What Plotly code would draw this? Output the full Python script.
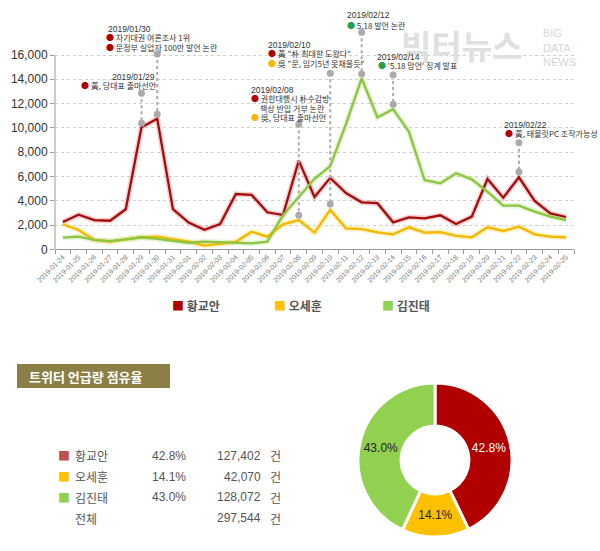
import plotly.graph_objects as go

# ---------------- data ----------------
dates = ["2019-01-24", "2019-01-25", "2019-01-26", "2019-01-27", "2019-01-28", "2019-01-29",
         "2019-01-30", "2019-01-31", "2019-02-01", "2019-02-02", "2019-02-03", "2019-02-04",
         "2019-02-05", "2019-02-06", "2019-02-07", "2019-02-08", "2019-02-09", "2019-02-10",
         "2019-02-11", "2019-02-12", "2019-02-13", "2019-02-14", "2019-02-15", "2019-02-16",
         "2019-02-17", "2019-02-18", "2019-02-19", "2019-02-20", "2019-02-21", "2019-02-22",
         "2019-02-23", "2019-02-24", "2019-02-25"]
hwang = [2250, 2850, 2400, 2350, 3300, 10050, 10750, 3300,
         2200, 1600, 2080, 4550, 4480, 3050, 2820, 7300, 4300, 5880, 4630, 3870, 3800, 2220,
         2630, 2550, 2800, 2080, 2690, 5790, 4250, 5930, 3980, 2960, 2660]
oh = [2060, 1590, 770, 630, 820, 990, 1040, 850,
      630, 300, 490, 620, 1450, 1040, 2060, 2410, 1370, 3240, 1730, 1670, 1400, 1230,
      1810, 1370, 1420, 1100, 990, 1810, 1510, 1860, 1230, 1040, 990]
kim = [960, 1040, 770, 680, 820, 990, 850, 680,
       540, 630, 580, 580, 490, 630, 2820, 4300, 5800, 6850, 10300, 14080, 10870, 11530,
       9690, 5700, 5430, 6260, 5760, 4740, 3590, 3590, 3100, 2690, 2410]
names = ["황교안", "오세훈", "김진태"]
y_ticks = [0, 2000, 4000, 6000, 8000, 10000, 12000, 14000, 16000]

# event markers: date, top value, bottom value
event_dates = ["2019-01-29", "2019-01-30", "2019-02-08", "2019-02-10", "2019-02-12", "2019-02-14", "2019-02-22"]
event_top = [12850, 16080, 10300, 14500, 17870, 14350, 8780]
event_bottom = [10380, 11120, 2800, 3730, 14440, 11950, 6390]

share_values = [127402, 42070, 128072]
share_pct = ["42.8%", "14.1%", "43.0%"]
share_counts = ["127,402", "42,070", "128,072"]
total_label = "전체"
total_count = "297,544"

# ---------------- styling ----------------
W, H = 600, 551
RED, YEL, GRN = "#B00000", "#FFC000", "#92D050"
LINE_COLORS = ["#A30D0D", "#F5B800", "#8CC640"]
GLOW = ["rgba(215,70,70,0.25)", "rgba(255,215,80,0.35)", "rgba(170,220,120,0.3)"]
KR = "Noto Sans CJK KR, Noto Sans, sans-serif"
NUM = "Liberation Sans, Arial, sans-serif"


def px(x):
    return x / W


def py(y):
    return 1 - y / H


y0_px, y16_px, ytop_px = 249.3, 55.0, 20.0
ytop_val = (y0_px - ytop_px) / (y0_px - y16_px) * 16000

fig = go.Figure()

series = [hwang, oh, kim]
for i, vals in enumerate(series):
    fig.add_trace(go.Scatter(x=dates, y=vals, mode="lines", line=dict(color=GLOW[i], width=5.5),
                             hoverinfo="skip", showlegend=False))
for i, vals in enumerate(series):
    fig.add_trace(go.Scatter(x=dates, y=vals, mode="lines", name=names[i],
                             line=dict(color=LINE_COLORS[i], width=2.3), showlegend=False))

for d, t, b in zip(event_dates, event_top, event_bottom):
    fig.add_trace(go.Scatter(x=[d, d], y=[t, b], mode="lines+markers",
                             line=dict(color="#aaaaaa", width=2, dash="dot"),
                             marker=dict(color="#aaaaaa", size=7),
                             cliponaxis=False, showlegend=False, hoverinfo="skip"))

# donut
fig.add_trace(go.Pie(values=share_values, labels=names, sort=False, direction="clockwise",
                     rotation=0, hole=0.44,
                     marker=dict(colors=[RED, YEL, GRN], line=dict(color="white", width=3)),
                     text=share_pct, textinfo="text", textposition="inside",
                     insidetextorientation="horizontal",
                     textfont=dict(size=12, color=["white", "#222222", "#222222"], family=NUM),
                     domain=dict(x=[px(435 - 77), px(435 + 77)], y=[py(460 + 77), py(460 - 77)]),
                     showlegend=False, hoverinfo="label+percent"))

fig.update_layout(
    width=W, height=H, margin=dict(l=0, r=0, t=0, b=0, autoexpand=False),
    paper_bgcolor="white", plot_bgcolor="rgba(0,0,0,0)", showlegend=False,
    xaxis=dict(type="category", domain=[px(55), px(574)], range=[-0.5, len(dates) - 0.5],
               showline=True, linecolor="#999999", linewidth=1, ticks="outside",
               tickson="boundaries", ticklen=4, tickcolor="#999999", tickangle=-45,
               tickfont=dict(size=7, color="#777777", family=NUM), showgrid=False, anchor="y",
               automargin=False),
    yaxis=dict(domain=[py(y0_px), py(ytop_px)], range=[0, ytop_val], tickvals=y_ticks,
               ticktext=[f"{v:,}" for v in y_ticks], showline=False, ticks="outside", ticklen=4,
               tickcolor="#999999", tickfont=dict(size=12, color="#333333", family=NUM),
               showgrid=True, gridcolor="#cfcfcf", griddash="dot", gridwidth=1,
               zeroline=False, automargin=False),
)

shapes = [dict(type="line", xref="paper", yref="y", x0=px(55), x1=px(55), y0=0, y1=16000,
               line=dict(color="#999999", width=1)),
          dict(type="rect", xref="paper", yref="paper", x0=px(17), x1=px(170), y0=py(388), y1=py(364),
               fillcolor="#8C7F45", line=dict(width=0), layer="below")]
fig.update_layout(shapes=shapes)

ann = []


def txt(x, y, s, size=8, color="#333333", family=KR, xanchor="left", bold=False):
    if bold:
        s = f"<b>{s}</b>"
    ann.append(dict(x=px(x), y=py(y), xref="paper", yref="paper", text=s, showarrow=False,
                    xanchor=xanchor, yanchor="middle", font=dict(size=size, color=color, family=family)))


def dot(c):
    return f"<span style='color:{c}'>●</span> "


BR, BY, BG = "#B00000", "#F5B800", "#22A04A"

# watermark
txt(461, 45, "빅터뉴스", size=33, color="#e0e0e0", xanchor="center", bold=True)
txt(541, 33, "BIG", size=11, color="#d6d6d6", family=NUM)
txt(541, 47.5, "DATA", size=11, color="#d6d6d6", family=NUM)
txt(541, 62, "NEWS", size=11, color="#d6d6d6", family=NUM)

# event annotations
txt(110, 77, "2019/01/29", size=8.5, family=NUM)
txt(79, 85.5, dot(BR) + "黃, 당대표 출마선언")
txt(106, 29, "2019/01/30", size=8.5, family=NUM)
txt(104, 37.5, dot(BR) + "차기대권 여론조사 1위")
txt(104, 47, dot(BR) + "문정부 실업자 100만 발언 논란")
txt(249, 90, "2019/02/08", size=8.5, family=NUM)
txt(249, 99, dot(BR) + "권한대행시 朴수감방")
txt(258, 108, "책상 반입 거부 논란")
txt(249, 117.5, dot(BY) + "吳, 당대표 출마선언")
txt(266, 45, "2019/02/10", size=8.5, family=NUM)
txt(266, 53.5, dot(BR) + "黃 \"朴 최대한 도왔다\"")
txt(266, 63, dot(BY) + "吳 \"문, 임기5년 못채울듯\"")
txt(345, 15, "2019/02/12", size=8.5, family=NUM)
txt(345, 25, dot(BG) + "5.18 발언 논란")
txt(375, 57, "2019/02/14", size=8.5, family=NUM)
txt(376, 66, dot(BG) + "'5.18 망언' 징계 발표")
txt(502, 125, "2019/02/22", size=8.5, family=NUM)
txt(503, 134, dot(BR) + "黃, 태블릿PC 조작가능성")

# legend
legend_x = [170, 272, 380]
for i, n in enumerate(names):
    txt(legend_x[i], 305, f"<span style='color:{[RED, YEL, GRN][i]}'>■</span> <b>{n}</b>",
        size=12, color="#555555")

# title box text
txt(27, 376, "트위터 언급량 점유율", size=13, color="white", bold=True)

# table
row_y = [455.7, 476.5, 497.3, 518]
sq_colors = ["#C0504D", "#FFC000", "#92D050"]
for i in range(3):
    txt(56, row_y[i], f"<span style='color:{sq_colors[i]}'>■</span>", size=12)
    txt(73, row_y[i], names[i], size=12, color="#555555")
    txt(150, row_y[i], share_pct[i], size=12, color="#555555", family=NUM)
    txt(263, row_y[i], share_counts[i], size=12, color="#555555", family=NUM, xanchor="right")
    txt(268, row_y[i], "건", size=12, color="#555555")
txt(73, row_y[3], total_label, size=12, color="#555555")
txt(263, row_y[3], total_count, size=12, color="#555555", family=NUM, xanchor="right")
txt(268, row_y[3], "건", size=12, color="#555555")

fig.update_layout(annotations=ann)
fig.write_html("out.html", config={"displayModeBar": False},
               post_script="document.body.style.margin='0';document.body.style.overflow='hidden';")
